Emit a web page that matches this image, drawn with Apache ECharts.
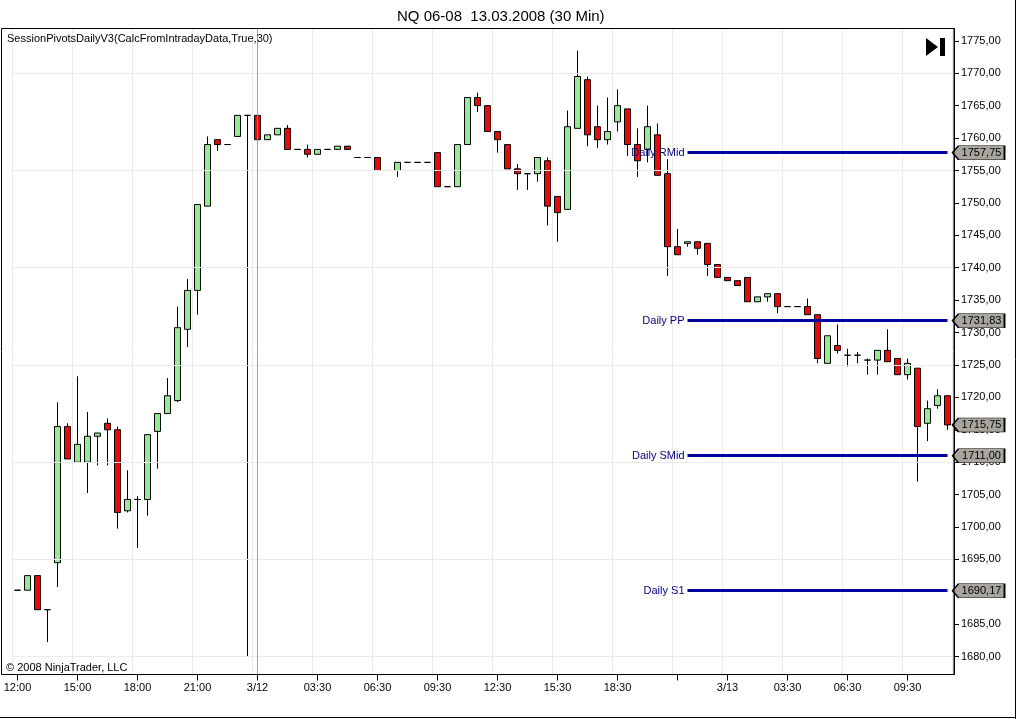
<!DOCTYPE html>
<html><head><meta charset="utf-8">
<script src="https://cdn.jsdelivr.net/npm/echarts@6/dist/echarts.min.js"></script>
<style>html,body{margin:0;padding:0;background:#fff}#c{width:1016px;height:719px}</style>
</head><body><div id="c"></div><script>
// OHLC of 30-min bars (index 0 = first bar)
const open  = [1690.25,1690.25,1692.5,1687.25,1694.5,1715.5,1710,1710,1714,1716,1715,1702.5,1704.25,1704.25,1714.75,1717.5,1719.5,1730.5,1736.5,1749.5,1759.75,1759,1760.25,1763.5,1763.5,1759.75,1760.5,1761.5,1758.25,1758.25,1757.5,1758.25,1758.25,1758.75,1757,1757,1757,1755,1755,1756.25,1756.25,1756.25,1757.75,1752.5,1752.5,1759,1766.25,1765,1761,1759,1755.25,1754.5,1754.5,1756.5,1751,1749,1761.5,1769,1761.75,1759.75,1762.5,1764.5,1759,1758.25,1760.5,1754.5,1743.25,1743.75,1744,1743.75,1740.5,1738.5,1738,1738.5,1734.75,1735.5,1736,1734,1734,1734,1732.75,1725.25,1728,1726.5,1726.5,1725.75,1725.75,1727.25,1726,1723.5,1724.5,1716,1718.75,1720.25];
const close = [1690.25,1692.5,1687.25,1687.25,1715.5,1710.5,1712.75,1714,1714.5,1715,1702.25,1704.25,1704.25,1714.25,1717.5,1720.25,1730.75,1736.5,1749.75,1759,1759,1759,1763.5,1763.5,1759.75,1760.5,1761.5,1758.25,1758.25,1757.5,1758.25,1758.25,1758.75,1758.25,1757,1757,1755,1755,1756.25,1756.25,1756.25,1756.25,1752.5,1752.5,1759,1766.25,1765,1761,1759.75,1755.25,1754.5,1754.5,1757,1749.5,1748.5,1761.75,1769.5,1760.5,1759.75,1761,1765,1759,1756.5,1761.75,1754.25,1743.25,1742,1744,1743,1740.5,1738.5,1738,1737.25,1734.75,1735.5,1736,1734,1734,1734,1732.75,1726,1729.5,1727.25,1726.5,1726.5,1725.75,1727.25,1725.5,1723.5,1725.25,1715.5,1718.25,1720.25,1715.75];
const low   = [1690.25,1690.25,1687.25,1682.25,1690.75,1710.5,1710,1705.25,1709.5,1709.5,1699.75,1702.25,1696.75,1701.75,1709,1717.5,1719.25,1727.75,1732.75,1749.5,1758,1759,1760.25,1680,1759.75,1759.75,1760.5,1758.25,1758.25,1757,1757.5,1758.25,1758.25,1758.25,1757,1757,1755,1755,1754,1756.25,1756.25,1756.25,1752.5,1752.5,1752.5,1759,1764,1761,1757.75,1755.25,1752,1752,1753.25,1746.5,1744,1749,1761.5,1758.75,1758.5,1759,1761,1757.25,1754,1756.25,1754.25,1738.75,1742,1743.25,1742,1738.75,1738.5,1738,1737.25,1734.75,1734.75,1734.75,1733,1734,1734,1732.75,1725.25,1725.25,1726.75,1724.75,1725.25,1723.5,1723.5,1725.5,1723.5,1722.75,1707,1713.25,1718.25,1715];
const high  = [1690.25,1692.5,1692.5,1687.25,1719.25,1716,1723.25,1717.75,1714.5,1716.75,1715.5,1708.75,1704.75,1714.25,1717.5,1723,1734,1738.25,1749.75,1760.25,1759.75,1759,1763.5,1763.5,1763.5,1760.5,1761.5,1762,1758.25,1759,1758.25,1758.25,1758.75,1758.75,1757,1757,1757,1755,1756.25,1756.25,1756.25,1756.25,1757.75,1752.5,1759,1766.25,1767,1765,1761,1759,1756,1754.5,1757,1757,1751,1764.25,1773.5,1769.5,1765,1766.25,1767.5,1764.5,1761.5,1765,1762.25,1756.75,1746,1744,1744,1743.75,1740.5,1738.5,1738,1738.5,1735.5,1736,1736,1734,1734,1735.25,1732.75,1729.5,1731.25,1727.5,1727,1726,1727.25,1730.5,1726,1726,1724.5,1719.5,1721.25,1720.25];

// x-axis ticks (bar index -> label)
const tickIndex  = [0,6,12,18,24,30,36,42,48,54,60,66,71,77,83,89];
const tickLabels = ['12:00','15:00','18:00','21:00','3/12','03:30','06:30','09:30','12:30','15:30','18:30','','3/13','03:30','06:30','09:30'];
const sessionBreakIndex = 24;

// y-axis
const yTicks = [1680,1685,1690,1695,1700,1705,1710,1715,1720,1725,1730,1735,1740,1745,1750,1755,1760,1765,1770,1775];
const yGrid  = [1680,1695,1710,1725,1740,1755,1770];
const yMin = 1677.25, yMax = 1776.9;

// pivots
const pivotNames  = ['Daily RMid','Daily PP','Daily SMid','Daily S1'];
const pivotValues = [1757.75,1731.83,1711.00,1690.17];
const pivotStartIndex = 67;

const FONT = '"Liberation Sans", Arial, sans-serif';
const fmt = v => Number(v).toFixed(2).replace('.', ',');
const n = open.length;
const lastIdx = n - 1;
const cats = open.map((_, i) => String(i));
const ohlc = open.map((o, i) => [o, close[i], low[i], high[i]]);
const isTick = i => tickIndex.indexOf(Number(i)) >= 0;

const chart = echarts.init(document.getElementById('c'), null, {renderer: 'canvas'});
const tagPath = 'path://M0,7L6,0L52,0L52,14L6,14Z';
const tagData = pivotValues.concat([close[lastIdx]]).map(v => ({coord: [String(lastIdx), v], value: v}));

chart.setOption({
  animation: false,
  backgroundColor: '#fff',
  title: {
    text: 'NQ 06-08  13.03.2008 (30 Min)',
    left: 392, top: 4,
    textStyle: {fontFamily: FONT, fontSize: 15, fontWeight: 'normal', color: '#000'}
  },
  grid: {left: 12.5, right: 63.5, top: 28.5, bottom: 44.5},
  xAxis: {
    type: 'category', data: cats, boundaryGap: true,
    axisLine: {show: true, lineStyle: {color: '#000', width: 1}},
    axisTick: {show: true, alignWithLabel: true, interval: (i) => isTick(i), length: 6, lineStyle: {color: '#000'}},
    axisLabel: {
      interval: (i) => isTick(i),
      formatter: (v) => { const k = tickIndex.indexOf(Number(v)); return k >= 0 ? tickLabels[k] : ''; },
      color: '#000', fontSize: 11, fontFamily: FONT, margin: 8
    },
    splitLine: {show: true, interval: (i) => isTick(i), lineStyle: {color: '#ebebeb', width: 1}}
  },
  yAxis: {
    type: 'value', position: 'right', min: yMin, max: yMax, offset: 1.5, scale: true,
    axisLine: {show: true, lineStyle: {color: '#000', width: 1}},
    axisTick: {show: true, customValues: yTicks, length: 5, lineStyle: {color: '#000'}},
    axisLabel: {customValues: yTicks, formatter: fmt, color: '#000', fontSize: 11, fontFamily: FONT, margin: 7},
    splitLine: {show: false}
  },
  series: [
    {
      type: 'line', data: [], z: 1, silent: true,
      markLine: {
        silent: true, symbol: 'none', animation: false,
        label: {show: false},
        lineStyle: {color: '#ebebeb', width: 1, type: 'solid'},
        data: yGrid.map(v => ({yAxis: v})).concat([
          {xAxis: String(sessionBreakIndex), lineStyle: {color: '#a0a0a0', width: 1, type: 'solid'}}
        ])
      }
    },
    {
      type: 'candlestick', data: ohlc, z: 2, barWidth: 6,
      itemStyle: {color: '#90EE90', color0: '#FF0000', borderColor: '#000', borderColor0: '#000', borderColorDoji: '#000', borderWidth: 1}
    },
    {
      type: 'line', data: [], z: 3, silent: true,
      markLine: {
        silent: true, symbol: 'none', animation: false,
        lineStyle: {color: '#0000A0', width: 3, type: 'solid'},
        label: {show: true, position: 'start', distance: 3, formatter: p => p.name, color: '#00008B', fontSize: 11, fontFamily: FONT},
        data: pivotValues.map((v, k) => [
          {name: pivotNames[k], coord: [String(pivotStartIndex), v]},
          {coord: [String(lastIdx), v]}
        ])
      }
    },
    {
      type: 'line', data: [], z: 4, silent: true,
      markPoint: {
        silent: true, animation: false,
        symbol: tagPath, symbolSize: [52, 14], symbolOffset: [31, 0], symbolKeepAspect: false,
        itemStyle: {color: '#a8a59d', borderColor: '#000', borderWidth: 1},
        label: {show: true, position: 'inside', offset: [3, 0], formatter: p => fmt(p.value), color: '#000', fontSize: 11, fontFamily: FONT},
        data: tagData
      }
    }
  ],
  graphic: [
    {type: 'rect', silent: true, z: 100, shape: {x: 1.5, y: 28.5, width: 952.5, height: 646}, style: {fill: null, stroke: '#000', lineWidth: 1}},
    {type: 'line', silent: true, z: 100, shape: {x1: 1015.5, y1: 0, x2: 1015.5, y2: 719}, style: {stroke: '#000', lineWidth: 1}},
    {type: 'line', silent: true, z: 100, shape: {x1: 0, y1: 717.5, x2: 1016, y2: 717.5}, style: {stroke: '#000', lineWidth: 1}},
    {type: 'text', silent: true, z: 100, x: 7, y: 39, style: {text: 'SessionPivotsDailyV3(CalcFromIntradayData,True,30)', font: '11px ' + FONT, fill: '#000', verticalAlign: 'middle'}},
    {type: 'text', silent: true, z: 100, x: 6, y: 668, style: {text: '\u00a9 2008 NinjaTrader, LLC', font: '11px ' + FONT, fill: '#000', verticalAlign: 'middle'}},
    {type: 'polygon', silent: true, z: 100, shape: {points: [[926, 38], [926, 56], [938, 47]]}, style: {fill: '#000'}},
    {type: 'rect', silent: true, z: 100, shape: {x: 940, y: 38, width: 5, height: 18}, style: {fill: '#000'}}
  ]
});
</script></body></html>
